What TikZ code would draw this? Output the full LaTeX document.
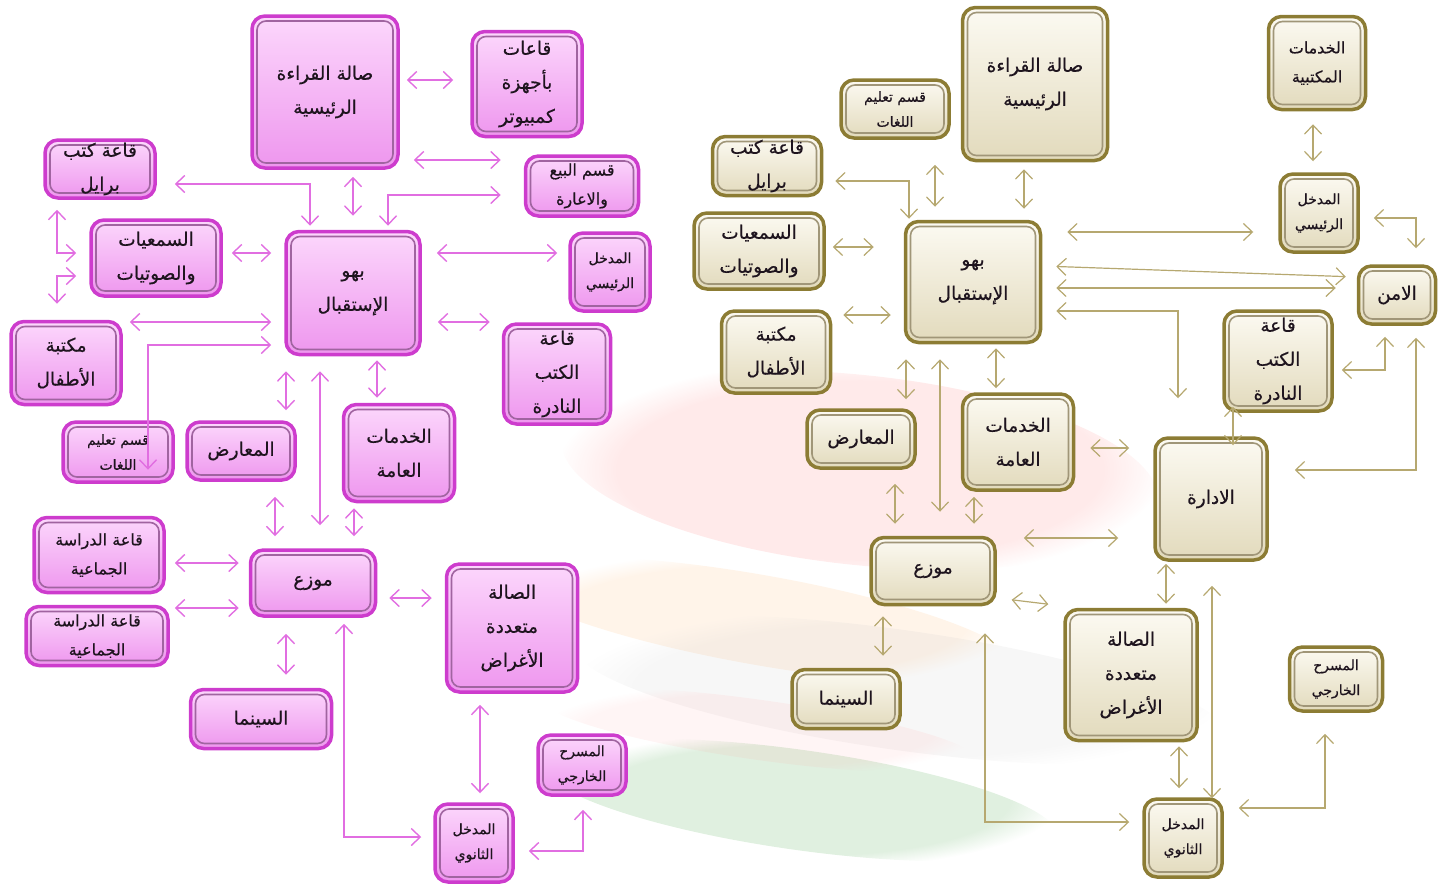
\documentclass[tikz,border=0pt]{standalone}
\usepackage{fontspec}
\newfontfamily\afont[Script=Arabic,FakeBold=0.5]{DejaVu Sans}
\TeXXeTstate=1
\usetikzlibrary{arrows.meta,fadings}
\newcommand{\rl}[1]{\beginR#1\endR}
\definecolor{PBorder}{RGB}{205,60,205}
\definecolor{PTop}{RGB}{252,215,252}
\definecolor{PBot}{RGB}{238,150,238}
\definecolor{PInner}{RGB}{160,100,160}
\definecolor{PArrow}{RGB}{225,110,225}
\definecolor{GBorder}{RGB}{140,124,52}
\definecolor{GTop}{RGB}{252,250,242}
\definecolor{GBot}{RGB}{226,218,188}
\definecolor{GInner}{RGB}{160,150,120}
\definecolor{GArrow}{RGB}{182,168,112}
\definecolor{TextC}{RGB}{30,20,30}
\tikzset{
  bigtxt/.style={font=\afont\fontsize{18.5}{34}\selectfont},
  midtxt/.style={font=\afont\fontsize{16}{29}\selectfont},
  smalltxt/.style={font=\afont\fontsize{14}{25}\selectfont},
  pbox/.style={rounded corners=13pt, draw=PBorder, line width=3.5pt, inner sep=0pt,
    align=center, top color=PTop, bottom color=PBot, text=TextC, bigtxt,
    path picture={\draw[line width=1.6pt, PInner, rounded corners=9pt]
      ([shift={(5pt,-5pt)}]path picture bounding box.north west) rectangle
      ([shift={(-5pt,5pt)}]path picture bounding box.south east);}},
  gbox/.style={rounded corners=13pt, draw=GBorder, line width=3.5pt, inner sep=0pt,
    align=center, top color=GTop, bottom color=GBot, text=TextC, bigtxt,
    path picture={\draw[line width=1.6pt, GInner, rounded corners=9pt]
      ([shift={(5pt,-5pt)}]path picture bounding box.north west) rectangle
      ([shift={(-5pt,5pt)}]path picture bounding box.south east);}},
  parr/.style={draw=PArrow, line width=1.4pt,
    {Straight Barb[length=9pt,width=17pt]}-{Straight Barb[length=9pt,width=17pt]}},
  garr/.style={draw=GArrow, line width=1.2pt,
    {Straight Barb[length=9pt,width=17pt]}-{Straight Barb[length=9pt,width=17pt]}},
}
\begin{document}
\begin{tikzpicture}[x=1pt,y=-1pt]
\useasboundingbox (0,0) rectangle (1442,886);
% faint background (book stack photo)
\begin{scope}
\fill[red!45, opacity=0.18, path fading=circle with fuzzy edge 20 percent, rotate around={-6:(860,470)}] (860,470) ellipse (300 and 95);
\fill[orange!60, opacity=0.14, path fading=circle with fuzzy edge 20 percent, rotate around={-10:(760,620)}] (760,620) ellipse (260 and 45);
\fill[gray!50, opacity=0.12, path fading=circle with fuzzy edge 20 percent, rotate around={-8:(900,690)}] (900,690) ellipse (330 and 60);
\fill[green!50!black, opacity=0.12, path fading=circle with fuzzy edge 20 percent, rotate around={-8:(800,800)}] (800,800) ellipse (260 and 50);
\fill[red!40, opacity=0.10, path fading=circle with fuzzy edge 20 percent, rotate around={-8:(760,730)}] (760,730) ellipse (220 and 30);
\end{scope}

% ===== LEFT (pink) =====
\node[pbox, minimum width=146pt, minimum height=152pt] (Lread) at (325,92) {\rl{صالة القراءة}\\\rl{الرئيسية}};
\node[pbox, minimum width=110pt, minimum height=105pt] (Lcomp) at (527,84) {\rl{قاعات}\\\rl{بأجهزة}\\\rl{كمبيوتر}};
\node[pbox, minimum width=110pt, minimum height=58pt] (Lbra) at (100,169) {\rl{قاعة كتب}\\\rl{برايل}};
\node[pbox, midtxt, minimum width=113pt, minimum height=60pt] (Lsale) at (582,186) {\rl{قسم البيع}\\\rl{والاعارة}};
\node[pbox, minimum width=130pt, minimum height=76pt] (Laud) at (156,258) {\rl{السمعيات}\\\rl{والصوتيات}};
\node[pbox, minimum width=134pt, minimum height=123pt] (Llob) at (353,293) {\rl{بهو}\\\rl{الإستقبال}};
\node[pbox, smalltxt, minimum width=80pt, minimum height=78pt] (Lmain) at (610,272) {\rl{المدخل}\\\rl{الرئيسي}};
\node[pbox, minimum width=110pt, minimum height=83pt] (Lkid) at (66,363) {\rl{مكتبة}\\\rl{الأطفال}};
\node[pbox, minimum width=107pt, minimum height=100pt] (Lrare) at (557,374) {\rl{قاعة}\\\rl{الكتب}\\\rl{النادرة}};
\node[pbox, smalltxt, minimum width=110pt, minimum height=60pt] (Llang) at (118,452) {\rl{قسم تعليم}\\\rl{اللغات}};
\node[pbox, minimum width=108pt, minimum height=58pt] (Lexh) at (241,451) {\rl{المعارض}};
\node[pbox, minimum width=111pt, minimum height=97pt] (Lpub) at (399,453) {\rl{الخدمات}\\\rl{العامة}};
\node[pbox, midtxt, minimum width=130pt, minimum height=75pt] (Lst1) at (99,555) {\rl{قاعة الدراسة}\\\rl{الجماعية}};
\node[pbox, minimum width=125pt, minimum height=66pt] (Ldist) at (313,583) {\rl{موزع}};
\node[pbox, minimum width=131pt, minimum height=128pt] (Lmul) at (512,628) {\rl{الصالة}\\\rl{متعددة}\\\rl{الأغراض}};
\node[pbox, midtxt, minimum width=142pt, minimum height=59pt] (Lst2) at (97,636) {\rl{قاعة الدراسة}\\\rl{الجماعية}};
\node[pbox, minimum width=141pt, minimum height=59pt] (Lcin) at (261,719) {\rl{السينما}};
\node[pbox, smalltxt, minimum width=88pt, minimum height=60pt] (Lthe) at (582,765) {\rl{المسرح}\\\rl{الخارجي}};
\node[pbox, smalltxt, minimum width=78pt, minimum height=78pt] (Lsec) at (474,843) {\rl{المدخل}\\\rl{الثانوي}};

% ===== RIGHT (gold) =====
\node[gbox, smalltxt, minimum width=108pt, minimum height=58pt] (Rlang) at (895,109) {\rl{قسم تعليم}\\\rl{اللغات}};
\node[gbox, minimum width=145pt, minimum height=153pt] (Rread) at (1035,84) {\rl{صالة القراءة}\\\rl{الرئيسية}};
\node[gbox, midtxt, minimum width=97pt, minimum height=93pt] (Roff) at (1317,63) {\rl{الخدمات}\\\rl{المكتبية}};
\node[gbox, minimum width=109pt, minimum height=59pt] (Rbra) at (767,166) {\rl{قاعة كتب}\\\rl{برايل}};
\node[gbox, minimum width=130pt, minimum height=76pt] (Raud) at (759,251) {\rl{السمعيات}\\\rl{والصوتيات}};
\node[gbox, minimum width=135pt, minimum height=121pt] (Rlob) at (973,282) {\rl{بهو}\\\rl{الإستقبال}};
\node[gbox, smalltxt, minimum width=78pt, minimum height=78pt] (Rmain) at (1319,213) {\rl{المدخل}\\\rl{الرئيسي}};
\node[gbox, minimum width=77pt, minimum height=58pt] (Rsec) at (1397,295) {\rl{الامن}};
\node[gbox, minimum width=109pt, minimum height=82pt] (Rkid) at (776,352) {\rl{مكتبة}\\\rl{الأطفال}};
\node[gbox, minimum width=108pt, minimum height=100pt] (Rrare) at (1278,361) {\rl{قاعة}\\\rl{الكتب}\\\rl{النادرة}};
\node[gbox, minimum width=108pt, minimum height=58pt] (Rexh) at (861,439) {\rl{المعارض}};
\node[gbox, minimum width=111pt, minimum height=96pt] (Rpub) at (1018,442) {\rl{الخدمات}\\\rl{العامة}};
\node[gbox, minimum width=112pt, minimum height=122pt] (Radm) at (1211,499) {\rl{الادارة}};
\node[gbox, minimum width=124pt, minimum height=67pt] (Rdist) at (933,571) {\rl{موزع}};
\node[gbox, minimum width=108pt, minimum height=59pt] (Rcin) at (846,699) {\rl{السينما}};
\node[gbox, minimum width=132pt, minimum height=131pt] (Rmul) at (1131,675) {\rl{الصالة}\\\rl{متعددة}\\\rl{الأغراض}};
\node[gbox, smalltxt, minimum width=93pt, minimum height=64pt] (Rthe) at (1336,679) {\rl{المسرح}\\\rl{الخارجي}};
\node[gbox, smalltxt, minimum width=78pt, minimum height=78pt] (Rsnd) at (1183,838) {\rl{المدخل}\\\rl{الثانوي}};

% ===== LEFT arrows =====
\draw[parr, shorten <=7pt, shorten >=17pt] (Lread.east |- 0,80) -- (Lcomp.west |- 0,80);
\draw[parr, shorten <=7pt, shorten >=14pt] (Lread.south -| 353,0) -- (Llob.north -| 353,0);
\draw[parr, shorten <=14pt, shorten >=23pt] (Lread.east |- 0,160) -- (Lsale.west |- 0,160);
\draw[parr, shorten <=23pt, shorten >=4pt] (Lsale.west |- 0,195) -| (Llob.north -| 388,0);
\draw[parr, shorten <=18pt, shorten >=4pt] (Lbra.east |- 0,184) -| (Llob.north -| 310,0);
\draw[parr, shorten <=15pt, shorten >=11pt] (Llob.east |- 0,253) -- (Lmain.west |- 0,253);
\draw[parr, shorten <=9pt, shorten >=13pt] (Laud.east |- 0,253) -- (Llob.west |- 0,253);
\draw[parr, shorten <=10pt, shorten >=13pt] (Lbra.south -| 57,0) |- (Laud.west |- 0,253);
\draw[parr, shorten <=13pt, shorten >=16pt] (Laud.west |- 0,276) -| (Lkid.north -| 57,0);
\draw[parr, shorten <=7pt, shorten >=13pt] (Lkid.east |- 0,322) -- (Llob.west |- 0,322);
\draw[parr, shorten <=13pt, shorten >=14pt] (Llob.west |- 0,345) -| (Llang.south -| 148,0);
\draw[parr, shorten <=16pt, shorten >=12pt] (Llob.east |- 0,322) -- (Lrare.west |- 0,322);
\draw[parr, shorten <=4pt, shorten >=5pt] (Llob.south -| 377,0) -- (Lpub.north -| 377,0);
\draw[parr, shorten <=15pt, shorten >=10pt] (Llob.south -| 286,0) -- (Lexh.north -| 286,0);
\draw[parr, shorten <=15pt, shorten >=23pt] (Llob.south -| 320,0) -- (Ldist.north -| 320,0);
\draw[parr, shorten <=15pt, shorten >=12pt] (Lexh.south -| 275,0) -- (Ldist.north -| 275,0);
\draw[parr, shorten <=5pt, shorten >=12pt] (Lpub.south -| 354,0) -- (Ldist.north -| 354,0);
\draw[parr, shorten <=9pt, shorten >=10pt] (Lst1.east |- 0,563) -- (Ldist.west |- 0,563);
\draw[parr, shorten <=5pt, shorten >=10pt] (Lst2.east |- 0,608) -- (Ldist.west |- 0,608);
\draw[parr, shorten <=12pt, shorten >=13pt] (Ldist.east |- 0,598) -- (Lmul.west |- 0,598);
\draw[parr, shorten <=16pt, shorten >=13pt] (Ldist.south -| 286,0) -- (Lcin.north -| 286,0);
\draw[parr, shorten <=6pt, shorten >=12pt] (Ldist.south -| 344,0) |- (Lsec.west |- 0,837);
\draw[parr, shorten <=11pt, shorten >=9pt] (Lmul.south -| 480,0) -- (Lsec.north -| 480,0);
\draw[parr, shorten <=14pt, shorten >=13pt] (Lsec.east |- 0,851) -| (Lthe.south -| 583,0);

% ===== RIGHT arrows =====
\draw[garr, shorten <=25pt, shorten >=13pt] (Rlang.south -| 935,0) -- (Rlob.north -| 935,0);
\draw[garr, shorten <=7pt, shorten >=11pt] (Rread.south -| 1024,0) -- (Rlob.north -| 1024,0);
\draw[garr, shorten <=12pt, shorten >=1pt] (Rbra.east |- 0,181) -| (Rlob.north -| 909,0);
\draw[garr, shorten <=7pt, shorten >=30pt] (Raud.east |- 0,247) -- (Rlob.west |- 0,247);
\draw[garr, shorten <=25pt, shorten >=25pt] (Rlob.east |- 0,232) -- (Rmain.west |- 0,232);
\draw[garr, shorten <=13pt, shorten >=11pt] (Roff.south -| 1313,0) -- (Rmain.north -| 1313,0);
\draw[garr, shorten <=14pt, shorten >=16pt] (Rmain.east |- 0,218) -| (Rsec.north -| 1416,0);
\draw[garr, shorten <=14pt, shorten >=11pt] (Rlob.east |- 0,266) -- (Rsec.west |- 0,277);
\draw[garr, shorten <=14pt, shorten >=21pt] (Rlob.east |- 0,288) -- (Rsec.west |- 0,288);
\draw[garr, shorten <=14pt, shorten >=38pt] (Rlob.east |- 0,311) -| (Radm.north -| 1178,0);
\draw[garr, shorten <=11pt, shorten >=13pt] (Rkid.east |- 0,315) -- (Rlob.west |- 0,315);
\draw[garr, shorten <=15pt, shorten >=9pt] (Rlob.south -| 906,0) -- (Rexh.north -| 906,0);
\draw[garr, shorten <=15pt, shorten >=24pt] (Rlob.south -| 940,0) -- (Rdist.north -| 940,0);
\draw[garr, shorten <=4pt, shorten >=4pt] (Rlob.south -| 996,0) -- (Rpub.north -| 996,0);
\draw[garr, shorten <=14pt, shorten >=12pt] (Rexh.south -| 895,0) -- (Rdist.north -| 895,0);
\draw[garr, shorten <=5pt, shorten >=12pt] (Rpub.south -| 974,0) -- (Rdist.north -| 974,0);
\draw[garr, shorten <=15pt, shorten >=24pt] (Rpub.east |- 0,448) -- (Radm.west |- 0,448);
\draw[garr, shorten <=-6pt, shorten >=-9pt] (Rrare.south -| 1233,0) -- (Radm.north -| 1233,0);
\draw[garr, shorten <=8pt, shorten >=11pt] (Rrare.east |- 0,370) -| (Rsec.south -| 1385,0);
\draw[garr, shorten <=26pt, shorten >=12pt] (Radm.east |- 0,470) -| (Rsec.south -| 1416,0);
\draw[garr, shorten <=27pt, shorten >=35pt] (Rdist.east |- 0,538) -- (Radm.west |- 0,538);
\draw[garr, shorten <=15pt, shorten >=15pt] (Rdist.east |- 0,598) -- (Rmul.west |- 0,606);
\draw[garr, shorten <=10pt, shorten >=12pt] (Rdist.south -| 883,0) -- (Rcin.north -| 883,0);
\draw[garr, shorten <=2pt, shorten >=4pt] (Radm.south -| 1166,0) -- (Rmul.north -| 1166,0);
\draw[garr, shorten <=24pt, shorten >=-1pt] (Radm.south -| 1212,0) -- (Rsnd.north -| 1212,0);
\draw[garr, shorten <=4pt, shorten >=9pt] (Rmul.south -| 1179,0) -- (Rsnd.north -| 1179,0);
\draw[garr, shorten <=27pt, shorten >=13pt] (Rdist.south -| 985,0) |- (Rsnd.west |- 0,822);
\draw[garr, shorten <=15pt, shorten >=21pt] (Rsnd.east |- 0,808) -| (Rthe.south -| 1325,0);
\end{tikzpicture}
\end{document}
